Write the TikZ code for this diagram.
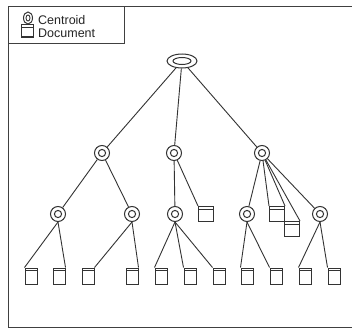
\documentclass[tikz,border=0pt]{standalone}
\usepackage{fontspec}
\setmainfont{Liberation Sans}
\usetikzlibrary{shapes.geometric}
\begin{document}
\begin{tikzpicture}[x=1pt,y=-1pt,
  ln/.style={draw=black!80, line width=0.9pt},
  cent/.style={circle, draw=black!80, line width=1pt, minimum size=15pt, inner sep=0pt,
    path picture={\draw[black!80, line width=1pt] (path picture bounding box.center) circle (3.6pt);}},
  rootc/.style={ellipse, draw=black!80, line width=1pt, minimum width=30pt, minimum height=14pt, inner sep=0pt,
    path picture={\draw[black!80, line width=1pt] (path picture bounding box.center) ellipse (9pt and 3.5pt);}},
  doc/.style={rectangle, draw=black!80, line width=1pt, minimum size=15pt, inner sep=0pt,
    path picture={\draw[black!80, line width=0.8pt] ([yshift=-2.5pt]path picture bounding box.north west) -- ([yshift=-2.5pt]path picture bounding box.north east);}},
  leaf/.style={doc, minimum width=12pt, minimum height=16pt},
  lbl/.style={font=\fontsize{12.5}{13}\selectfont, inner sep=0pt, anchor=west, text=black!85}
]
\useasboundingbox (0,0) rectangle (352,329);
\fill[white] (0,0) rectangle (352,329);
% frame
\draw[black!75, line width=1pt] (352,7) -- (8,7) -- (8,327) -- (352,327);
\draw[black!75, line width=1pt] (124,7) -- (124,43) -- (8,43);
% legend
\node[ellipse, draw=black!80, line width=1pt, minimum width=9pt, minimum height=12pt, inner sep=0pt,
  path picture={\draw[black!80, line width=0.9pt] (path picture bounding box.center) ellipse (2pt and 3pt);}] (lc) at (28,18) {};
\node[doc, minimum size=12pt] (ld) at (27,31) {};
\node[lbl] (t1) at (38,20) {Centroid};
\node[lbl] (t2) at (38,33) {Document};
% tree
\node[rootc] (r) at (182,61) {};
\node[cent] (a) at (102,153) {};
\node[cent] (b) at (174,153) {};
\node[cent] (c) at (262,153) {};
\node[cent] (a1) at (58,214) {};
\node[cent] (a2) at (132,214) {};
\node[cent] (b1) at (175,214) {};
\node[doc] (b2) at (206,214) {};
\node[cent] (c1) at (247,214) {};
\node[doc] (c2) at (277,214) {};
\node[doc] (c3) at (292,229) {};
\node[cent] (c4) at (320,214) {};
\foreach \n/\x in {d1/31,d2/59,d3/88,d4/132,d5/161,d6/190,d7/219,d8/247,d9/276,d10/305,d11/334}
  \node[leaf] (\n) at (\x,276) {};
\draw[ln] (r) -- (a);
\draw[ln] (r) -- (b);
\draw[ln] (r) -- (c);
\draw[ln] (a) -- (a1);
\draw[ln] (a) -- (a2);
\draw[ln] (b) -- (b1);
\draw[ln] (b) -- (b2.north west);
\draw[ln] (c) -- (c1);
\draw[ln] (c) -- (c2.north west);
\draw[ln] (c) -- (c2.north east);
\draw[ln] (c) -- (c3.north east);
\draw[ln] (c) -- (c4);
\draw[ln] (a1.south) -- (d1.north west);
\draw[ln] (a1.south) -- (d2.north east);
\draw[ln] (a2.south) -- (d3.north east);
\draw[ln] (a2.south) -- (d4.north east);
\draw[ln] (b1.south) -- (d5.north west);
\draw[ln] (b1.south) -- (d6.north west);
\draw[ln] (b1.south) -- (d7.north west);
\draw[ln] (c1.south) -- (d8.north west);
\draw[ln] (c1.south) -- (d9.north west);
\draw[ln] (c4.south) -- (d10.north west);
\draw[ln] (c4.south) -- (d11.north west);
\end{tikzpicture}
\end{document}
